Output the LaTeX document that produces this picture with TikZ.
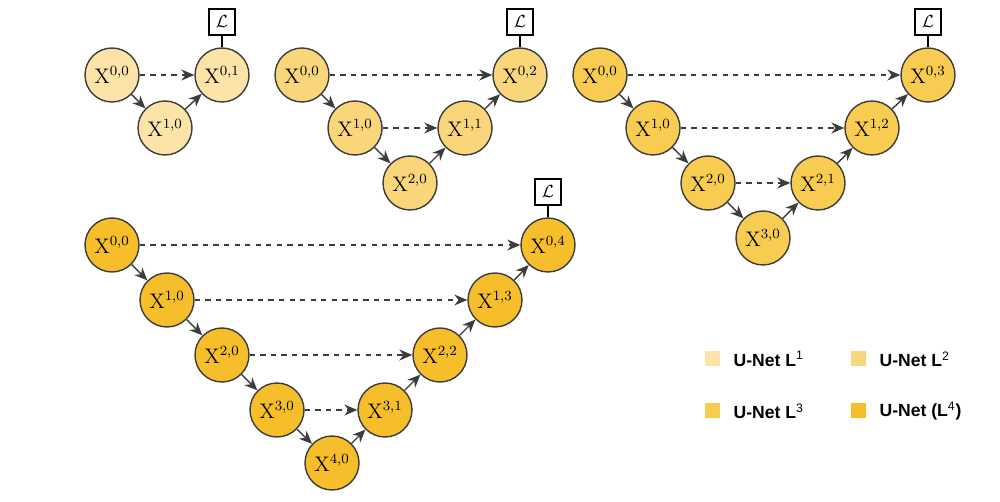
\documentclass[tikz,border=0pt]{standalone}
\usepackage{amsmath}
\usepackage{fontspec}
\newfontfamily\legendfont{Liberation Sans}
\usetikzlibrary{positioning, arrows.meta}
\definecolor{lone}{RGB}{252, 228, 168}
\definecolor{ltwo}{RGB}{250, 214, 122}
\definecolor{lthree}{RGB}{248, 204, 80}
\definecolor{lfour}{RGB}{246, 190, 42}
\definecolor{edgegray}{RGB}{60, 60, 60}
\newcommand{\legsup}[1]{\textsuperscript{\mdseries #1}}

\begin{document}
\begin{tikzpicture}[x=0.02cm, y=-0.02cm,
  unit/.style={circle, draw=edgegray, thick, minimum size=1.08cm, inner sep=0pt, font=\large},
  lossbox/.style={draw=black, thick, fill=white, minimum size=0.52cm, inner sep=0pt},
  down/.style={-{Stealth[length=2.6mm, width=2.2mm]}, thick, draw=edgegray},
  skip/.style={-{Stealth[length=2.6mm, width=2.2mm]}, thick, dashed, draw=edgegray},
  swatch/.style={fill=#1, minimum size=0.3cm, inner sep=0pt},
  legend/.style={font=\legendfont\bfseries, anchor=west}
]
  \useasboundingbox (0,0) rectangle (1000,502);

  % U-Net L1
  \node[unit, fill=lone] (a00) at (112,75) {X$^{0,0}$};
  \node[unit, fill=lone] (a10) at (165,128) {X$^{1,0}$};
  \node[unit, fill=lone] (a01) at (222,75) {X$^{0,1}$};
  \node[lossbox] (aL) at (222,22) {$\mathcal{L}$};
  \draw[down] (a00) -- (a10);
  \draw[down] (a10) -- (a01);
  \draw[skip] (a00) -- (a01);
  \draw[thick] (aL) -- (a01);

  % U-Net L2
  \node[unit, fill=ltwo] (b00) at (302,75) {X$^{0,0}$};
  \node[unit, fill=ltwo] (b10) at (355,128) {X$^{1,0}$};
  \node[unit, fill=ltwo] (b20) at (410,183) {X$^{2,0}$};
  \node[unit, fill=ltwo] (b11) at (465,128) {X$^{1,1}$};
  \node[unit, fill=ltwo] (b02) at (520,75) {X$^{0,2}$};
  \node[lossbox] (bL) at (520,22) {$\mathcal{L}$};
  \draw[down] (b00) -- (b10);
  \draw[down] (b10) -- (b20);
  \draw[down] (b20) -- (b11);
  \draw[down] (b11) -- (b02);
  \draw[skip] (b00) -- (b02);
  \draw[skip] (b10) -- (b11);
  \draw[thick] (bL) -- (b02);

  % U-Net L3
  \node[unit, fill=lthree] (c00) at (600,75) {X$^{0,0}$};
  \node[unit, fill=lthree] (c10) at (653,128) {X$^{1,0}$};
  \node[unit, fill=lthree] (c20) at (708,183) {X$^{2,0}$};
  \node[unit, fill=lthree] (c30) at (763,238) {X$^{3,0}$};
  \node[unit, fill=lthree] (c21) at (818,183) {X$^{2,1}$};
  \node[unit, fill=lthree] (c12) at (872,128) {X$^{1,2}$};
  \node[unit, fill=lthree] (c03) at (928,75) {X$^{0,3}$};
  \node[lossbox] (cL) at (928,22) {$\mathcal{L}$};
  \draw[down] (c00) -- (c10);
  \draw[down] (c10) -- (c20);
  \draw[down] (c20) -- (c30);
  \draw[down] (c30) -- (c21);
  \draw[down] (c21) -- (c12);
  \draw[down] (c12) -- (c03);
  \draw[skip] (c00) -- (c03);
  \draw[skip] (c10) -- (c12);
  \draw[skip] (c20) -- (c21);
  \draw[thick] (cL) -- (c03);

  % U-Net L4
  \node[unit, fill=lfour] (d00) at (112,245) {X$^{0,0}$};
  \node[unit, fill=lfour] (d10) at (167,300) {X$^{1,0}$};
  \node[unit, fill=lfour] (d20) at (222,355) {X$^{2,0}$};
  \node[unit, fill=lfour] (d30) at (277,410) {X$^{3,0}$};
  \node[unit, fill=lfour] (d40) at (332,463) {X$^{4,0}$};
  \node[unit, fill=lfour] (d31) at (385,410) {X$^{3,1}$};
  \node[unit, fill=lfour] (d22) at (440,355) {X$^{2,2}$};
  \node[unit, fill=lfour] (d13) at (495,300) {X$^{1,3}$};
  \node[unit, fill=lfour] (d04) at (548,245) {X$^{0,4}$};
  \node[lossbox] (dL) at (548,192) {$\mathcal{L}$};
  \foreach \s/\t in {d00/d10, d10/d20, d20/d30, d30/d40, d40/d31, d31/d22, d22/d13, d13/d04} {
    \draw[down] (\s) -- (\t);
  }
  \foreach \s/\t in {d00/d04, d10/d13, d20/d22, d30/d31} {
    \draw[skip] (\s) -- (\t);
  }
  \draw[thick] (dL) -- (d04);

  % Legend
  \node[swatch=lone] (k1) at (712,359) {};
  \node[legend, right=0.15cm of k1] {U-Net L\legsup{1}};
  \node[swatch=ltwo] (k2) at (858,359) {};
  \node[legend, right=0.15cm of k2] {U-Net L\legsup{2}};
  \node[swatch=lthree] (k3) at (712,411) {};
  \node[legend, right=0.15cm of k3] {U-Net L\legsup{3}};
  \node[swatch=lfour] (k4) at (858,411) {};
  \node[legend, right=0.15cm of k4] {U-Net (L\legsup{4})};
\end{tikzpicture}
\end{document}
